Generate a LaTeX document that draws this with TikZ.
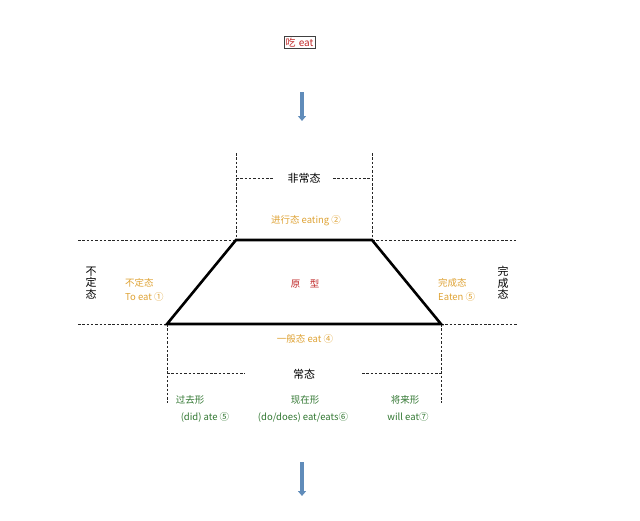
\documentclass[tikz,border=0pt]{standalone}
\usepackage{fontspec}
\setmainfont{Noto Sans CJK SC}
\usetikzlibrary{arrows.meta}
\definecolor{gold}{RGB}{222,162,52}
\definecolor{grn}{RGB}{48,118,48}
\definecolor{redt}{RGB}{192,40,40}
\definecolor{arrowblue}{RGB}{96,140,186}
\tikzset{
  dline/.style={line width=0.6pt, black!85, dash pattern=on 2.5pt off 1.8pt},
  trap/.style={line width=2.6pt, black, line join=miter},
  goldlab/.style={text=gold, font=\fontsize{9.5}{14}\selectfont, inner sep=1pt, align=center},
  greenlab/.style={text=grn, font=\fontsize{9.5}{11}\selectfont, inner sep=1pt},
  blacklab/.style={text=black, font=\fontsize{11}{12}\selectfont, inner sep=1pt},
  vertlab/.style={text=black, font=\fontsize{11}{11.5}\selectfont, inner sep=0pt, align=center},
  bluearrow/.style={line width=3.6pt, arrowblue, -{Triangle[width=8pt,length=5pt]}},
}
\begin{document}
\begin{tikzpicture}[x=1pt,y=-1pt]
\useasboundingbox (0,0) rectangle (640,520);
% top box
\node[draw=black!75, line width=0.6pt, text=redt, inner sep=1.5pt, font=\fontsize{10}{11}\selectfont] (eat) at (299.5,42.5) {吃\,\,eat};
% arrows
\coordinate (a1s) at (302,92);
\coordinate (a1e) at (302,121);
\draw[bluearrow] (a1s) -- (a1e);
\coordinate (a2s) at (302,462);
\coordinate (a2e) at (302,496);
\draw[bluearrow] (a2s) -- (a2e);
% key coordinates
\coordinate (TL) at (236,240);
\coordinate (TR) at (372,240);
\coordinate (BL) at (167,324);
\coordinate (BR) at (441,324);
\coordinate (hL1) at (78,240);
\coordinate (hR1) at (518,240);
\coordinate (hL2) at (78,324);
\coordinate (hR2) at (518,324);
\coordinate (vTL) at (236,153);
\coordinate (vTR) at (372,153);
\coordinate (vBL) at (167,403);
\coordinate (vBR) at (441,403);
% dashed lines
\draw[dline] (hL1) -- (TL);
\draw[dline] (TR) -- (hR1);
\draw[dline] (hL2) -- (BL);
\draw[dline] (BR) -- (hR2);
\draw[dline] (vTL) -- (TL);
\draw[dline] (vTR) -- (TR);
\draw[dline] (BL) -- (vBL);
\draw[dline] (BR) -- (vBR);
% upper labels
\node[blacklab] (fcht) at (304,178) {非常态};
\coordinate (ul1) at (236,178);
\coordinate (ur1) at (372,178);
\coordinate (ul2) at (273,178);
\coordinate (ur2) at (333,178);
\draw[dline] (ul1) -- (ul2);
\draw[dline] (ur2) -- (ur1);
\node[goldlab] (jxt) at (306,221) {进行态 eating ②};
% trapezoid
\draw[trap] (BL) -- (TL) -- (TR) -- (BR) -- cycle;
\node[text=redt, font=\fontsize{9.5}{11}\selectfont] (yx) at (305,284) {原\quad 型};
% side labels
\node[vertlab] (bdt) at (91,283) {不\\定\\态};
\node[vertlab] (wct) at (503,283) {完\\成\\态};
\node[goldlab, align=left, anchor=west] (bdl) at (124,290) {不定态\\To eat ①};
\node[goldlab, align=left, anchor=west] (wcl) at (437,290) {完成态\\Eaten ⑤};
% lower labels
\node[goldlab] (ybt) at (305,339) {一般态 eat ④};
\node[blacklab] (cht) at (304,374) {常态};
\coordinate (ll1) at (167,373);
\coordinate (lr1) at (441,373);
\coordinate (ll2) at (245,373);
\coordinate (lr2) at (362,373);
\draw[dline] (ll1) -- (ll2);
\draw[dline] (lr2) -- (lr1);
\node[greenlab] (gqx) at (190,400) {过去形};
\node[greenlab] (gqe) at (205,417) {(did) ate ⑤};
\node[greenlab] (xzx) at (305,400) {现在形};
\node[greenlab] (xze) at (303,417) {(do/does) eat/eats⑥};
\node[greenlab] (jlx) at (405,400) {将来形};
\node[greenlab] (jle) at (408,417) {will eat⑦};
\end{tikzpicture}
\end{document}
